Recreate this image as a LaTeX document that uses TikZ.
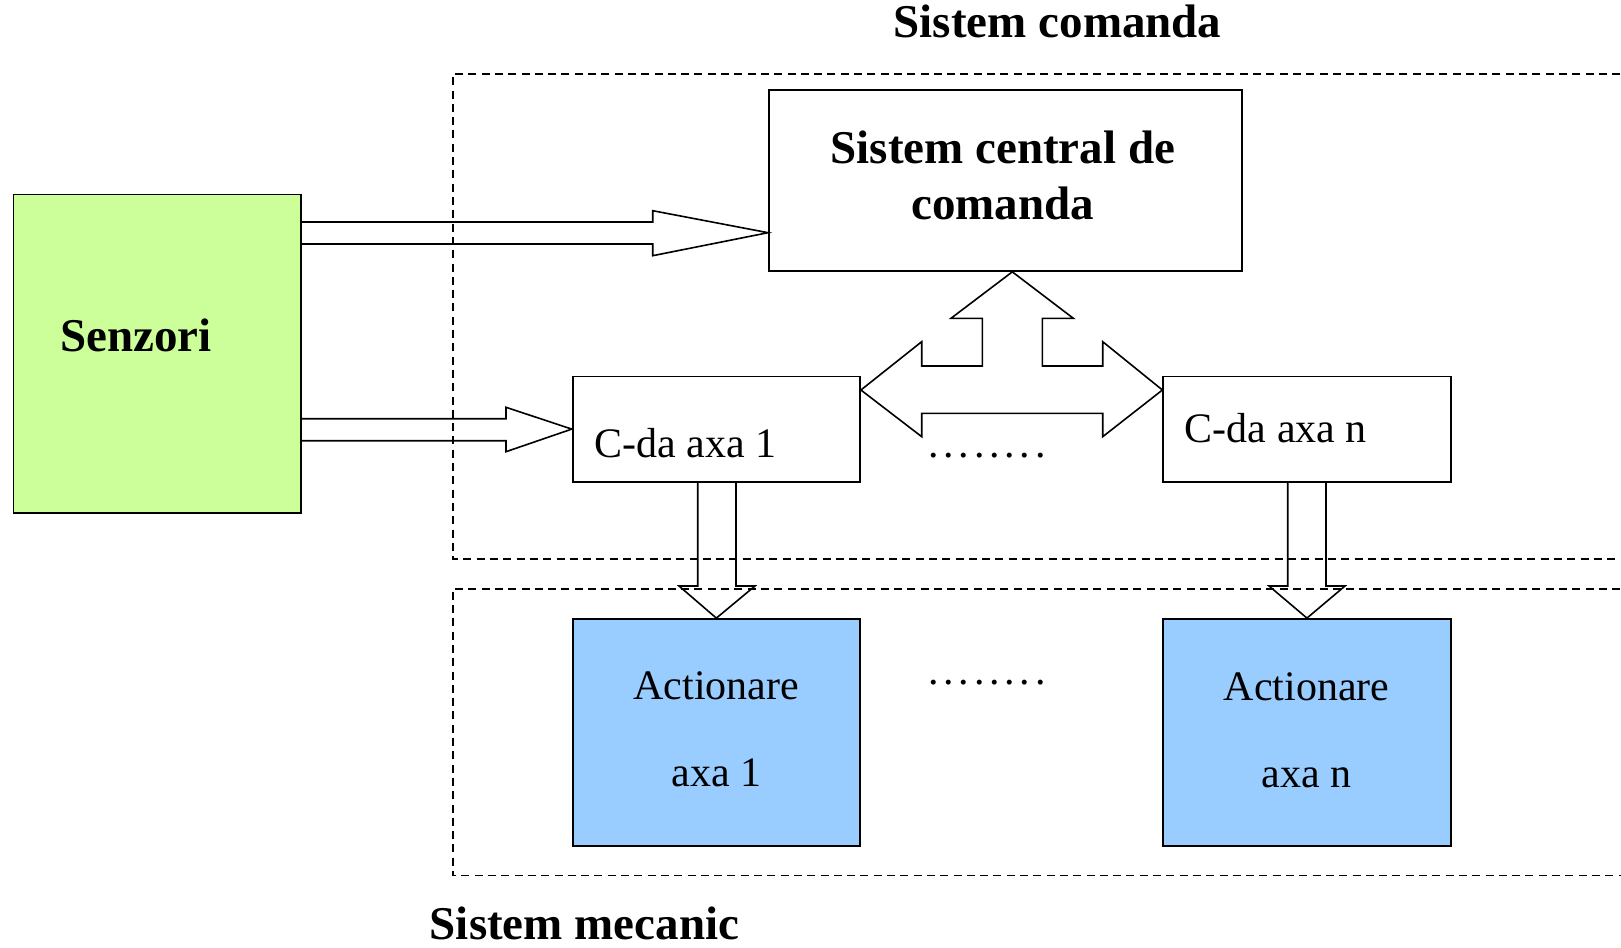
\documentclass[tikz,border=0pt]{standalone}
\usepackage{fontspec}
\setmainfont{Liberation Serif}
\definecolor{senzgreen}{HTML}{CCFF99}
\definecolor{actblue}{HTML}{99CCFF}
\tikzset{
  box/.style={draw=black, line width=1.8pt, rectangle, inner sep=0pt},
  blockarrow/.style={draw=black, line width=1.6pt, line join=miter},
  zone/.style={draw=black, line width=1.6pt, dash pattern=on 8pt off 5.3pt},
  bigtxt/.style={inner sep=0pt, font=\fontsize{47}{56}\selectfont\bfseries},
  txt/.style={inner sep=0pt, font=\fontsize{42}{50}\selectfont},
}
\newcommand{\dotrow}{.\kern4.8pt.\kern4.8pt.\kern4.8pt.\kern4.8pt.\kern4.8pt.\kern4.8pt.\kern4.8pt.}
\begin{document}
\begin{tikzpicture}[x=1pt,y=-1pt]
\useasboundingbox (0,0) rectangle (1621,947);
\begin{scope}
\clip (0,0) rectangle (1621,947);
% zones
\draw[zone] (1660,74.3) -- (452.7,74.3) -- (452.7,558.7) -- (1660,558.7);
\draw[zone] (1660,588.7) -- (452.7,588.7) -- (452.7,875.6) -- (1660,875.6);
\end{scope}

% boxes
\node[box, fill=senzgreen, minimum width=287.4pt, minimum height=318.4pt] (senz) at (157.1,353.6) {};
\node[box, fill=white, minimum width=472.6pt, minimum height=180.9pt] (central) at (1005.3,180.5) {};
\node[box, fill=white, minimum width=287.3pt, minimum height=105.2pt] (cda1) at (716.35,429.1) {};
\node[box, fill=white, minimum width=287.3pt, minimum height=105.2pt] (cdan) at (1306.95,429.1) {};
\node[box, fill=actblue, minimum width=287.3pt, minimum height=226.6pt] (act1) at (716.35,732.3) {};
\node[box, fill=actblue, minimum width=287.3pt, minimum height=226.6pt] (actn) at (1306.95,732.3) {};

% arrow senzori -> central
\draw[blockarrow] (senz.east |- 0,222) -- (652.7,222) -- (652.7,210.7) -- (central.west |- 0,232.7)
  -- (652.7,255.7) -- (652.7,244) -- (senz.east |- 0,244);
% arrow senzori -> cda1
\draw[blockarrow] (senz.east |- 0,418.7) -- (506,418.7) -- (506,407.3) -- (cda1.west)
  -- (506,451.7) -- (506,440.7) -- (senz.east |- 0,440.7);
% three-way arrow
\draw[blockarrow] (1012.3,0 |- central.south) -- (1073.3,318.3) -- (1042.3,318.3) -- (1042.3,366)
  -- (1102.7,366) -- (1102.7,341.7) -- (cdan.west |- 0,390) -- (1102.7,436.7) -- (1102.7,413.3)
  -- (921.7,413.3) -- (921.7,436.7) -- (cda1.east |- 0,390) -- (921.7,341.7) -- (921.7,366)
  -- (982.3,366) -- (982.3,318.3) -- (951,318.3) -- cycle;
% down arrows
\draw[blockarrow] (697.7,0 |- cda1.south) -- (697.7,586) -- (679,586) -- (act1.north)
  -- (755,586) -- (736,586) -- (736,0 |- cda1.south);
\draw[blockarrow] (1287.7,0 |- cdan.south) -- (1287.7,586) -- (1269,586) -- (actn.north)
  -- (1345,586) -- (1326,586) -- (1326,0 |- cdan.south);

% texts
\node[bigtxt, anchor=base] (tcom) at (1057.6,38) {Sistem comanda};
\node[bigtxt, anchor=base west] (tmec) at (429.6,939) {Sistem mecanic};
\node[bigtxt, anchor=base] (tc1) at (1002.8,163.5) {Sistem central de};
\node[bigtxt, anchor=base] (tc2) at (1002.8,219.5) {comanda};
\node[bigtxt, anchor=base west] (tsenz) at (60,351.7) {Senzori};
\node[txt, anchor=base west] (tcda1) at (594.4,457.5) {C-da axa 1};
\node[txt, anchor=base west] (tcdan) at (1184.7,442.5) {C-da axa n};
\node[txt, anchor=base] (ta1) at (716.3,699.3) {Actionare};
\node[txt, anchor=base] (ta1b) at (716.3,786) {axa 1};
\node[txt, anchor=base] (tan) at (1306.7,700.5) {Actionare};
\node[txt, anchor=base] (tanb) at (1306.7,787) {axa n};
\node[txt, anchor=base west] (dots1) at (928,457) {\dotrow};
\node[txt, anchor=base west] (dots2) at (928,684) {\dotrow};
\end{tikzpicture}
\end{document}
